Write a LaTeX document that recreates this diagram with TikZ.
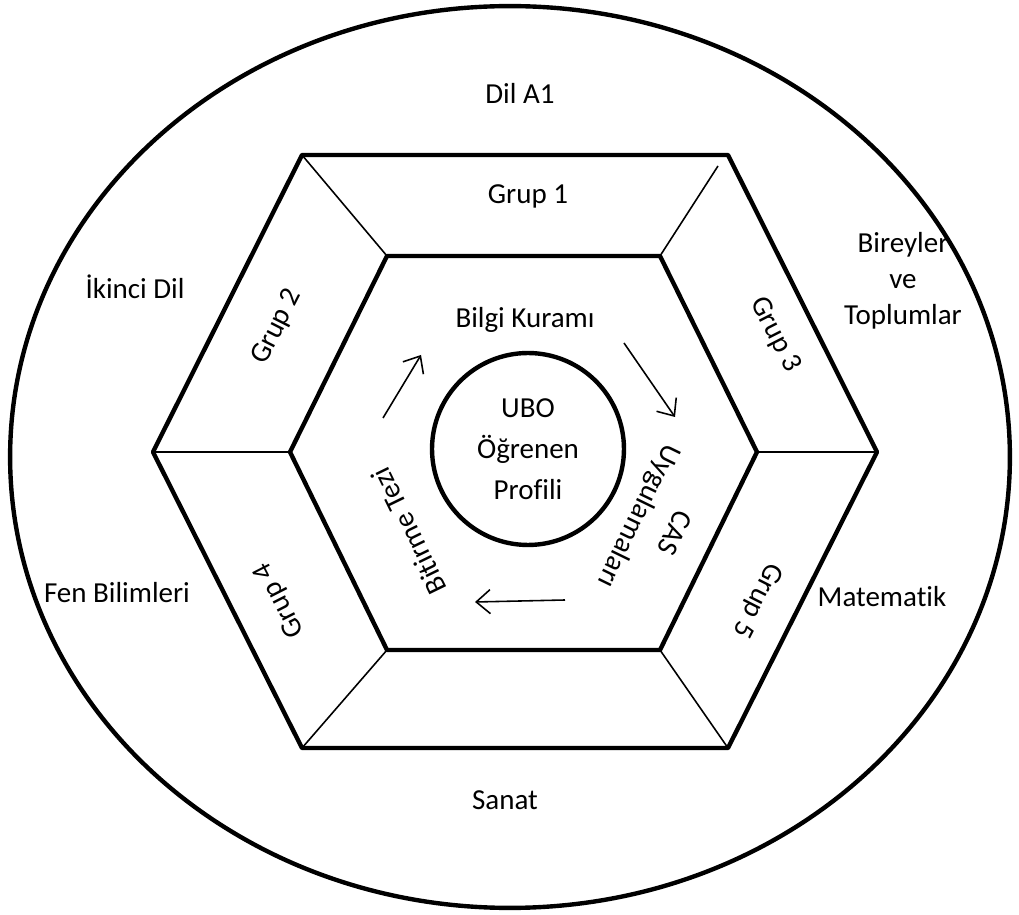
\documentclass[tikz,border=0pt]{standalone}
\usepackage{fontspec}
\setmainfont{Carlito}[Ligatures=NoCommon]
\usetikzlibrary{arrows.meta}

\begin{document}
\begin{tikzpicture}[x=0.02cm,y=-0.02cm,line join=round,
  font=\fontsize{16.5}{20.5}\selectfont,
  rim/.style={line width=2.5pt},
  spoke/.style={line width=0.9pt},
  flow/.style={line width=0.9pt,-{Straight Barb[length=2.8mm,width=4.8mm]}},
  lbl/.style={inner sep=1pt,align=center}]

  \useasboundingbox (0,0) rectangle (1019,915);

  %% ---------------------------------------------------------------
  %% outer ring and hexagon corners
  %% ---------------------------------------------------------------
  \draw[rim] (510,457) ellipse [x radius=10cm,y radius=9.02cm];

  % outer hexagon
  \coordinate (O1) at (302,155);
  \coordinate (O2) at (728,155);
  \coordinate (O3) at (877,452);
  \coordinate (O4) at (728,748);
  \coordinate (O5) at (302,748);
  \coordinate (O6) at (153,452);
  % inner hexagon
  \coordinate (I1) at (387,256);
  \coordinate (I2) at (660,256);
  \coordinate (I3) at (757,452);
  \coordinate (I4) at (660,650);
  \coordinate (I5) at (387,650);
  \coordinate (I6) at (290,452);
  % the upper right spoke starts a little below its corner
  \coordinate (S2) at (718,166);

  % thin spokes between the hexagons
  \draw[spoke] (O1) -- (I1);
  \draw[spoke] (S2) -- (I2);
  \draw[spoke] (O3) -- (I3);
  \draw[spoke] (O4) -- (I4);
  \draw[spoke] (O5) -- (I5);
  \draw[spoke] (O6) -- (I6);

  % the two hexagons
  \draw[rim] (O1) -- (O2) -- (O3) -- (O4) -- (O5) -- (O6) -- cycle;
  \draw[rim] (I1) -- (I2) -- (I3) -- (I4) -- (I5) -- (I6) -- cycle;

  % centre circle
  \node[draw,rim,circle,minimum size=3.84cm,inner sep=0pt,align=center,
    font=\fontsize{16.5}{23.5}\selectfont] (profil) at (528,449)
    {UBO\\Öğrenen\\Profili};

  %% ---------------------------------------------------------------
  %% labels in the outer ring
  %% ---------------------------------------------------------------
  \node[lbl] (dila) at (520,93) {Dil A1};
  \node[lbl] (ikinci) at (135,287) {İkinci Dil};
  \node[lbl,font=\fontsize{16.5}{20.5}\selectfont] (birey) at (903,281)
    {Bireyler\\ve\\Toplumlar};
  \node[lbl] (fen) at (117,593) {Fen Bilimleri};
  \node[lbl] (mat) at (882,597) {Matematik};
  \node[lbl] (sanat) at (505,800) {Sanat};

  %% ---------------------------------------------------------------
  %% labels in the hexagon band
  %% ---------------------------------------------------------------
  \node[lbl] (g1) at (528,196) {Grup 1};
  \node[lbl,rotate=63] (g2) at (277,327) {Grup 2};
  \node[lbl,rotate=-63] (g3) at (775,335) {Grup 3};
  \node[lbl,rotate=117] (g4) at (280,600) {Grup 4};
  \node[lbl,rotate=-117] (g5) at (757,600) {Grup 5};

  %% ---------------------------------------------------------------
  %% core: labels and cycle arrows
  %% ---------------------------------------------------------------
  \node[lbl] (tok) at (525,320) {Bilgi Kuramı};
  \node[lbl,rotate=-116,font=\fontsize{16.5}{22}\selectfont] (cas) at (655,524)
    {CAS\\Uygulamaları};
  \node[lbl,rotate=116] (tez) at (409,531) {Bitirme Tezi};

  \coordinate (a1s) at (383,418); \coordinate (a1e) at (421,355);
  \coordinate (a2s) at (624,343); \coordinate (a2e) at (675,417);
  \coordinate (a3s) at (565,600); \coordinate (a3e) at (475,602);
  \draw[flow] (a1s) -- (a1e);
  \draw[flow] (a2s) -- (a2e);
  \draw[flow] (a3s) -- (a3e);

\end{tikzpicture}
\end{document}
